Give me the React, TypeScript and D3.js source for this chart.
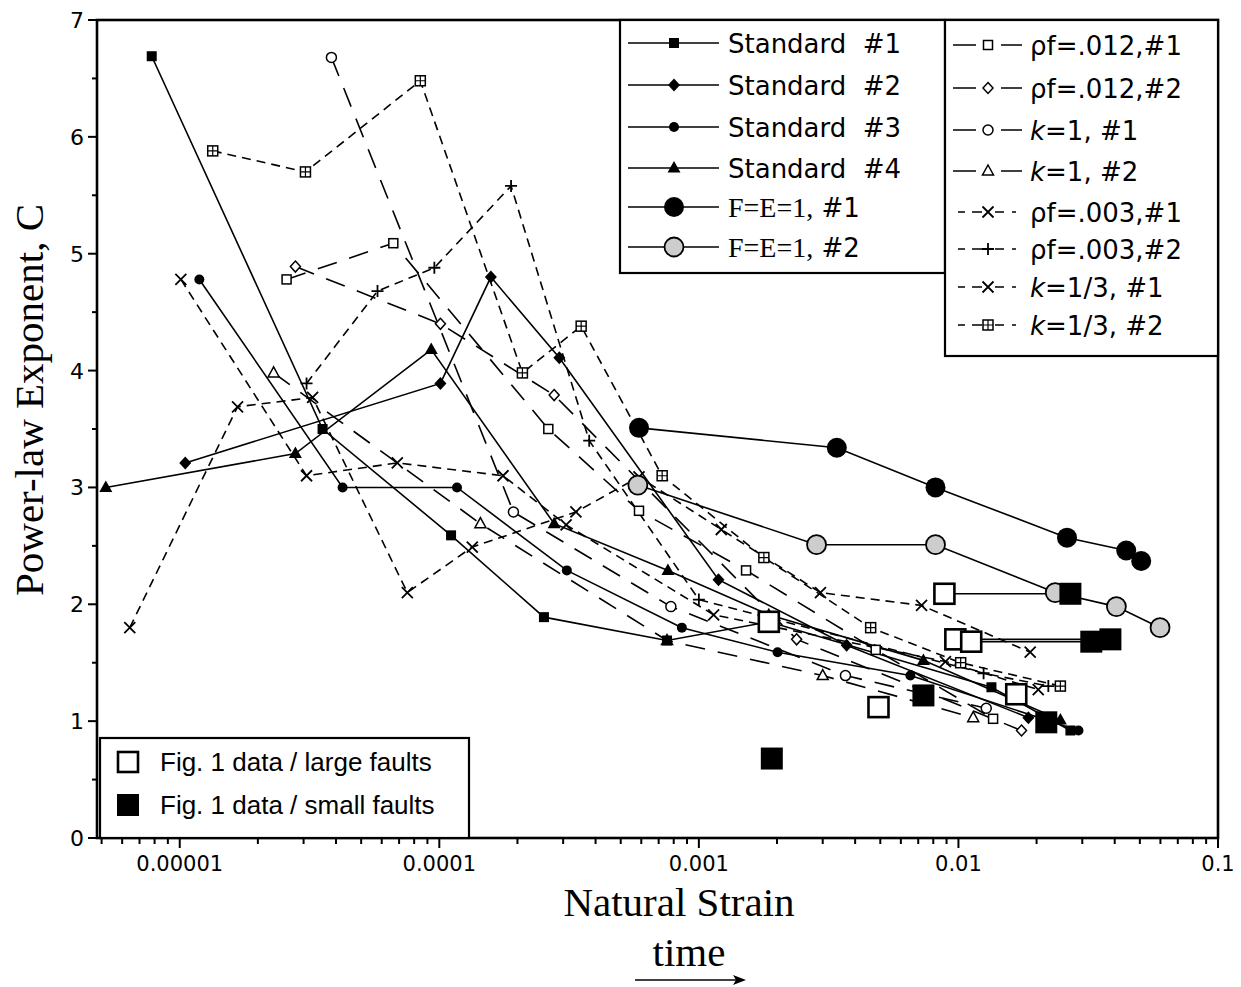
import React from "react";
import * as d3 from "d3";

type Pt = [number, number];

// axes
const xDomain: [number, number] = [4.8e-6, 0.1];
const yDomain: [number, number] = [0, 7];
const xTickValues = [0.00001, 0.0001, 0.001, 0.01, 0.1];
const xTickLabels = ["0.00001", "0.0001", "0.001", "0.01", "0.1"];
const yTickValues = [0, 1, 2, 3, 4, 5, 6, 7];

// model runs: [natural strain, power-law exponent C]
const standard1: Pt[] = [[7.8e-6, 6.69], [3.55e-5, 3.5], [1.11e-4, 2.59], [2.53e-4, 1.89], [7.54e-4, 1.69], [1.86e-3, 1.85], [1.34e-2, 1.29], [2.7e-2, 0.92]];
const standard2: Pt[] = [[1.05e-5, 3.21], [1.01e-4, 3.89], [1.58e-4, 4.8], [2.9e-4, 4.11], [1.19e-3, 2.21], [3.71e-3, 1.65], [1.86e-2, 1.03]];
const standard3: Pt[] = [[1.19e-5, 4.78], [4.24e-5, 3.0], [1.17e-4, 3.0], [3.1e-4, 2.29], [8.6e-4, 1.8], [2.01e-3, 1.59], [6.53e-3, 1.39], [2.9e-2, 0.92]];
const standard4: Pt[] = [[5.19e-6, 3.0], [2.79e-5, 3.29], [9.31e-5, 4.18], [2.77e-4, 2.69], [7.6e-4, 2.29], [1.86e-3, 1.91], [7.33e-3, 1.52], [2.47e-2, 1.01]];
const fe1: Pt[] = [[5.88e-4, 3.51], [3.4e-3, 3.34], [8.16e-3, 3.0], [2.62e-2, 2.57], [4.43e-2, 2.46], [5.06e-2, 2.37]];
const fe2: Pt[] = [[5.82e-4, 3.02], [2.84e-3, 2.51], [8.16e-3, 2.51], [2.36e-2, 2.1], [4.06e-2, 1.98], [5.98e-2, 1.8]];
const rho012a: Pt[] = [[2.58e-5, 4.78], [6.65e-5, 5.09], [2.63e-4, 3.5], [5.88e-4, 2.8], [1.52e-3, 2.29], [4.8e-3, 1.61], [1.36e-2, 1.02]];
const rho012b: Pt[] = [[2.79e-5, 4.89], [1.01e-4, 4.4], [2.77e-4, 3.79], [2.38e-3, 1.7], [1.75e-2, 0.92]];
const k1a: Pt[] = [[3.84e-5, 6.68], [1.93e-4, 2.79], [7.8e-4, 1.98], [3.67e-3, 1.39], [1.28e-2, 1.11]];
const k1b: Pt[] = [[2.3e-5, 3.98], [1.44e-4, 2.69], [7.54e-4, 1.69], [3.0e-3, 1.39], [1.14e-2, 1.03]];
const rho003a: Pt[] = [[6.42e-6, 1.8], [1.67e-5, 3.69], [3.25e-5, 3.77], [7.53e-5, 2.1], [1.34e-4, 2.49], [3.36e-4, 2.79], [5.88e-4, 3.09], [1.22e-3, 2.64], [2.94e-3, 2.1], [7.21e-3, 1.99], [1.89e-2, 1.59]];
const rho003b: Pt[] = [[3.08e-5, 3.89], [5.78e-5, 4.68], [9.57e-5, 4.88], [1.89e-4, 5.58], [3.78e-4, 3.4], [1.0e-3, 2.04], [1.25e-2, 1.41], [2.22e-2, 1.3]];
const k13a: Pt[] = [[1.01e-5, 4.78], [3.08e-5, 3.1], [6.89e-5, 3.21], [1.76e-4, 3.1], [3.08e-4, 2.68], [1.14e-3, 1.91], [8.91e-3, 1.51], [2.03e-2, 1.27]];
const k13b: Pt[] = [[1.34e-5, 5.88], [3.05e-5, 5.7], [8.45e-5, 6.48], [2.09e-4, 3.98], [3.52e-4, 4.38], [7.22e-4, 3.1], [1.78e-3, 2.4], [4.59e-3, 1.8], [1.02e-2, 1.5], [2.47e-2, 1.3]];

// Fig. 1 field data
const fig1Large: Pt[] = [[1.86e-3, 1.85], [4.92e-3, 1.12], [8.83e-3, 2.09], [9.73e-3, 1.7], [1.12e-2, 1.68], [1.67e-2, 1.23]];
const fig1Small: Pt[] = [[1.91e-3, 0.68], [7.33e-3, 1.22], [2.18e-2, 0.99], [2.7e-2, 2.09], [3.25e-2, 1.68], [3.85e-2, 1.7]];
const fig1Links: [number, number][] = [[2, 3], [3, 5], [4, 4]];

const LONG = "20 13";
const SHORT = "9 6";

type Series = { label: string; data: Pt[]; marker: string; dash: string | null };

const solidSeries: Series[] = [
    { label: "Standard  #1", data: standard1, marker: "sqF", dash: null },
    { label: "Standard  #2", data: standard2, marker: "diaF", dash: null },
    { label: "Standard  #3", data: standard3, marker: "cirF", dash: null },
    { label: "Standard  #4", data: standard4, marker: "triF", dash: null },
    { label: "F=E=1, #1", data: fe1, marker: "bigCirF", dash: null },
    { label: "F=E=1, #2", data: fe2, marker: "bigCirG", dash: null },
];

const dashedSeries: Series[] = [
    { label: "ρf=.012,#1", data: rho012a, marker: "sqO", dash: LONG },
    { label: "ρf=.012,#2", data: rho012b, marker: "diaO", dash: LONG },
    { label: "k=1, #1", data: k1a, marker: "cirO", dash: LONG },
    { label: "k=1, #2", data: k1b, marker: "triO", dash: LONG },
    { label: "ρf=.003,#1", data: rho003a, marker: "x", dash: SHORT },
    { label: "ρf=.003,#2", data: rho003b, marker: "plus", dash: SHORT },
    { label: "k=1/3, #1", data: k13a, marker: "x", dash: SHORT },
    { label: "k=1/3, #2", data: k13b, marker: "sqPlus", dash: SHORT },
];

const SANS = "'DejaVu Sans', Verdana, sans-serif";
const SERIF = "'Liberation Serif', 'Times New Roman', serif";
const HELV = "'Liberation Sans', Arial, sans-serif";

function Marker({ kind, cx, cy }: { kind: string; cx: number; cy: number }) {
    const sw = 1.5;
    switch (kind) {
        case "sqF":
            return <rect x={cx - 5} y={cy - 5} width={10} height={10} fill="#000" />;
        case "diaF":
            return <path d={`M${cx},${cy - 6.5}L${cx + 6},${cy}L${cx},${cy + 6.5}L${cx - 6},${cy}Z`} fill="#000" />;
        case "cirF":
            return <circle cx={cx} cy={cy} r={5} fill="#000" />;
        case "triF":
            return <path d={`M${cx},${cy - 7}L${cx + 6.5},${cy + 4.5}L${cx - 6.5},${cy + 4.5}Z`} fill="#000" />;
        case "bigCirF":
            return <circle cx={cx} cy={cy} r={10} fill="#000" />;
        case "bigCirG":
            return <circle cx={cx} cy={cy} r={9.5} fill="#cdcdcd" stroke="#000" strokeWidth={1.8} />;
        case "sqO":
            return <rect x={cx - 4.5} y={cy - 4.5} width={9} height={9} fill="#fff" stroke="#000" strokeWidth={sw} />;
        case "diaO":
            return <path d={`M${cx},${cy - 5.5}L${cx + 5},${cy}L${cx},${cy + 5.5}L${cx - 5},${cy}Z`} fill="#fff" stroke="#000" strokeWidth={sw} />;
        case "cirO":
            return <circle cx={cx} cy={cy} r={5} fill="#fff" stroke="#000" strokeWidth={sw} />;
        case "triO":
            return <path d={`M${cx},${cy - 6}L${cx + 5.5},${cy + 4}L${cx - 5.5},${cy + 4}Z`} fill="#fff" stroke="#000" strokeWidth={sw} />;
        case "x":
            return (
                <path
                    d={`M${cx - 5.5},${cy - 5.5}L${cx + 5.5},${cy + 5.5}M${cx - 5.5},${cy + 5.5}L${cx + 5.5},${cy - 5.5}`}
                    stroke="#000"
                    strokeWidth={1.8}
                />
            );
        case "plus":
            return <path d={`M${cx - 6},${cy}L${cx + 6},${cy}M${cx},${cy - 6}L${cx},${cy + 6}`} stroke="#000" strokeWidth={1.8} />;
        case "sqPlus":
            return (
                <g>
                    <rect x={cx - 5} y={cy - 5} width={10} height={10} fill="#fff" stroke="#000" strokeWidth={sw} />
                    <path d={`M${cx - 5},${cy}L${cx + 5},${cy}M${cx},${cy - 5}L${cx},${cy + 5}`} stroke="#000" strokeWidth={1.2} />
                </g>
            );
        case "bigSqO":
            return <rect x={cx - 10} y={cy - 10} width={20} height={20} fill="#fff" stroke="#000" strokeWidth={2.6} />;
        case "bigSqF":
            return <rect x={cx - 11} y={cy - 11} width={22} height={22} fill="#000" />;
        default:
            return null;
    }
}

export default function App() {
    const width = 1241;
    const height = 987;
    const left = 97;
    const right = 1218;
    const top = 20;
    const bottom = 838;

    const x = d3.scaleLog().domain(xDomain).range([left, right]);
    const y = d3.scaleLinear().domain(yDomain).range([bottom, top]);
    const line = d3
        .line<Pt>()
        .x(d => x(d[0]))
        .y(d => y(d[1]));

    const minorX = x.ticks().filter(t => t >= xDomain[0] && t <= xDomain[1]);
    const minorY = d3.range(0.5, 7, 1);

    const legend1Rows = [43, 85, 127, 168, 207, 247];
    const legend2Rows = [45, 88, 130, 171, 212, 249, 287, 325];

    const renderLabel2 = (label: string) => {
        if (label.startsWith("k")) {
            return (
                <>
                    <tspan fontStyle="italic">k</tspan>
                    {label.slice(1)}
                </>
            );
        }
        return label;
    };

    return (
        <div style={{ position: "absolute", left: 0, top: 0 }}>
            <svg width={width} height={height} style={{ display: "block", background: "#fff" }}>
                {/* series lines */}
                {[...solidSeries, ...dashedSeries].map(s => (
                    <path
                        key={"l" + s.label}
                        d={line(s.data) || ""}
                        fill="none"
                        stroke="#000"
                        strokeWidth={1.6}
                        strokeDasharray={s.dash || undefined}
                    />
                ))}
                {fig1Links.map(([a, b], i) => (
                    <line
                        key={"fl" + i}
                        x1={x(fig1Large[a][0])}
                        y1={y(fig1Large[a][1])}
                        x2={x(fig1Small[b][0])}
                        y2={y(fig1Small[b][1])}
                        stroke="#000"
                        strokeWidth={1.6}
                    />
                ))}
                {/* markers */}
                {[...dashedSeries, ...solidSeries].map(s =>
                    s.data.map((d, i) => <Marker key={s.label + i} kind={s.marker} cx={x(d[0])} cy={y(d[1])} />)
                )}
                {fig1Large.map((d, i) => (
                    <Marker key={"fL" + i} kind="bigSqO" cx={x(d[0])} cy={y(d[1])} />
                ))}
                {fig1Small.map((d, i) => (
                    <Marker key={"fS" + i} kind="bigSqF" cx={x(d[0])} cy={y(d[1])} />
                ))}

                {/* frame */}
                <rect x={left} y={top} width={right - left} height={bottom - top} fill="none" stroke="#000" strokeWidth={2.6} />

                {/* x ticks */}
                {minorX.map((t, i) => {
                    const lg = Math.log10(t);
                    const major = Math.abs(lg - Math.round(lg)) < 1e-6;
                    return (
                        <line key={"xt" + i} x1={x(t)} x2={x(t)} y1={bottom} y2={bottom + (major ? 10 : 6)} stroke="#000" strokeWidth={2} />
                    );
                })}
                {xTickValues.map((t, i) => (
                    <text key={"xl" + i} x={x(t)} y={bottom + 33} textAnchor="middle" fontFamily={SANS} fontSize={21}>
                        {xTickLabels[i]}
                    </text>
                ))}
                {/* y ticks */}
                {yTickValues.map(t => (
                    <g key={"yt" + t}>
                        <line x1={left - 9} x2={left} y1={y(t)} y2={y(t)} stroke="#000" strokeWidth={2} />
                        <text x={left - 13} y={y(t) + 8} textAnchor="end" fontFamily={SANS} fontSize={22}>
                            {t}
                        </text>
                    </g>
                ))}
                {minorY.map(t => (
                    <line key={"ym" + t} x1={left - 5} x2={left} y1={y(t)} y2={y(t)} stroke="#000" strokeWidth={2} />
                ))}

                {/* axis titles */}
                <text transform="translate(43,400) rotate(-90)" textAnchor="middle" fontFamily={SERIF} fontSize={41}>
                    Power-law Exponent, C
                </text>
                <text x={679} y={916} textAnchor="middle" fontFamily={SERIF} fontSize={41}>
                    Natural Strain
                </text>
                <text x={689} y={966} textAnchor="middle" fontFamily={SERIF} fontSize={41}>
                    time
                </text>
                <line x1={635} x2={738} y1={980} y2={980} stroke="#000" strokeWidth={1.5} />
                <path d="M746,980L733,975L736,980L733,985Z" fill="#000" />

                {/* legend 1 */}
                <rect x={620} y={top} width={325} height={253} fill="#fff" stroke="#000" strokeWidth={2.2} />
                {solidSeries.map((s, i) => {
                    const ry = legend1Rows[i];
                    const serif = s.label.startsWith("F");
                    return (
                        <g key={"lg1" + i}>
                            <line x1={628} x2={719} y1={ry} y2={ry} stroke="#000" strokeWidth={1.6} />
                            <Marker kind={s.marker} cx={674} cy={ry} />
                            {serif ? (
                                <text x={728} y={ry + 10} fontSize={28} fontFamily={SERIF}>
                                    {s.label.split(" ")[0]}
                                    <tspan fontFamily={SANS} fontSize={26}>
                                        {" " + s.label.split(" ")[1]}
                                    </tspan>
                                </text>
                            ) : (
                                <text x={728} y={ry + 10} fontSize={26} fontFamily={SANS} style={{ whiteSpace: "pre" }}>
                                    {s.label}
                                </text>
                            )}
                        </g>
                    );
                })}

                {/* legend 2 */}
                <rect x={945} y={top} width={right - 945} height={336} fill="#fff" stroke="#000" strokeWidth={2.2} />
                {dashedSeries.map((s, i) => {
                    const ry = legend2Rows[i];
                    const long = s.dash === LONG;
                    return (
                        <g key={"lg2" + i}>
                            {long ? (
                                <path d={`M953,${ry}L976,${ry}M1001,${ry}L1022,${ry}`} stroke="#000" strokeWidth={1.6} />
                            ) : (
                                <path
                                    d={`M958,${ry}L965,${ry}M972,${ry}L982,${ry}M995,${ry}L1004,${ry}M1012,${ry}L1016,${ry}`}
                                    stroke="#000"
                                    strokeWidth={1.6}
                                />
                            )}
                            <Marker kind={s.marker} cx={988} cy={ry} />
                            <text x={1030} y={ry + 10} fontSize={26} fontFamily={SANS}>
                                {renderLabel2(s.label)}
                            </text>
                        </g>
                    );
                })}

                {/* legend 3 */}
                <rect x={100} y={738} width={369} height={bottom - 738} fill="#fff" stroke="#000" strokeWidth={2.2} />
                <Marker kind="bigSqO" cx={128} cy={762} />
                <Marker kind="bigSqF" cx={128} cy={805} />
                <text x={160} y={771} fontSize={26} fontFamily={HELV}>
                    Fig. 1 data / large faults
                </text>
                <text x={160} y={814} fontSize={26} fontFamily={HELV}>
                    Fig. 1 data / small faults
                </text>
            </svg>
        </div>
    );
}
